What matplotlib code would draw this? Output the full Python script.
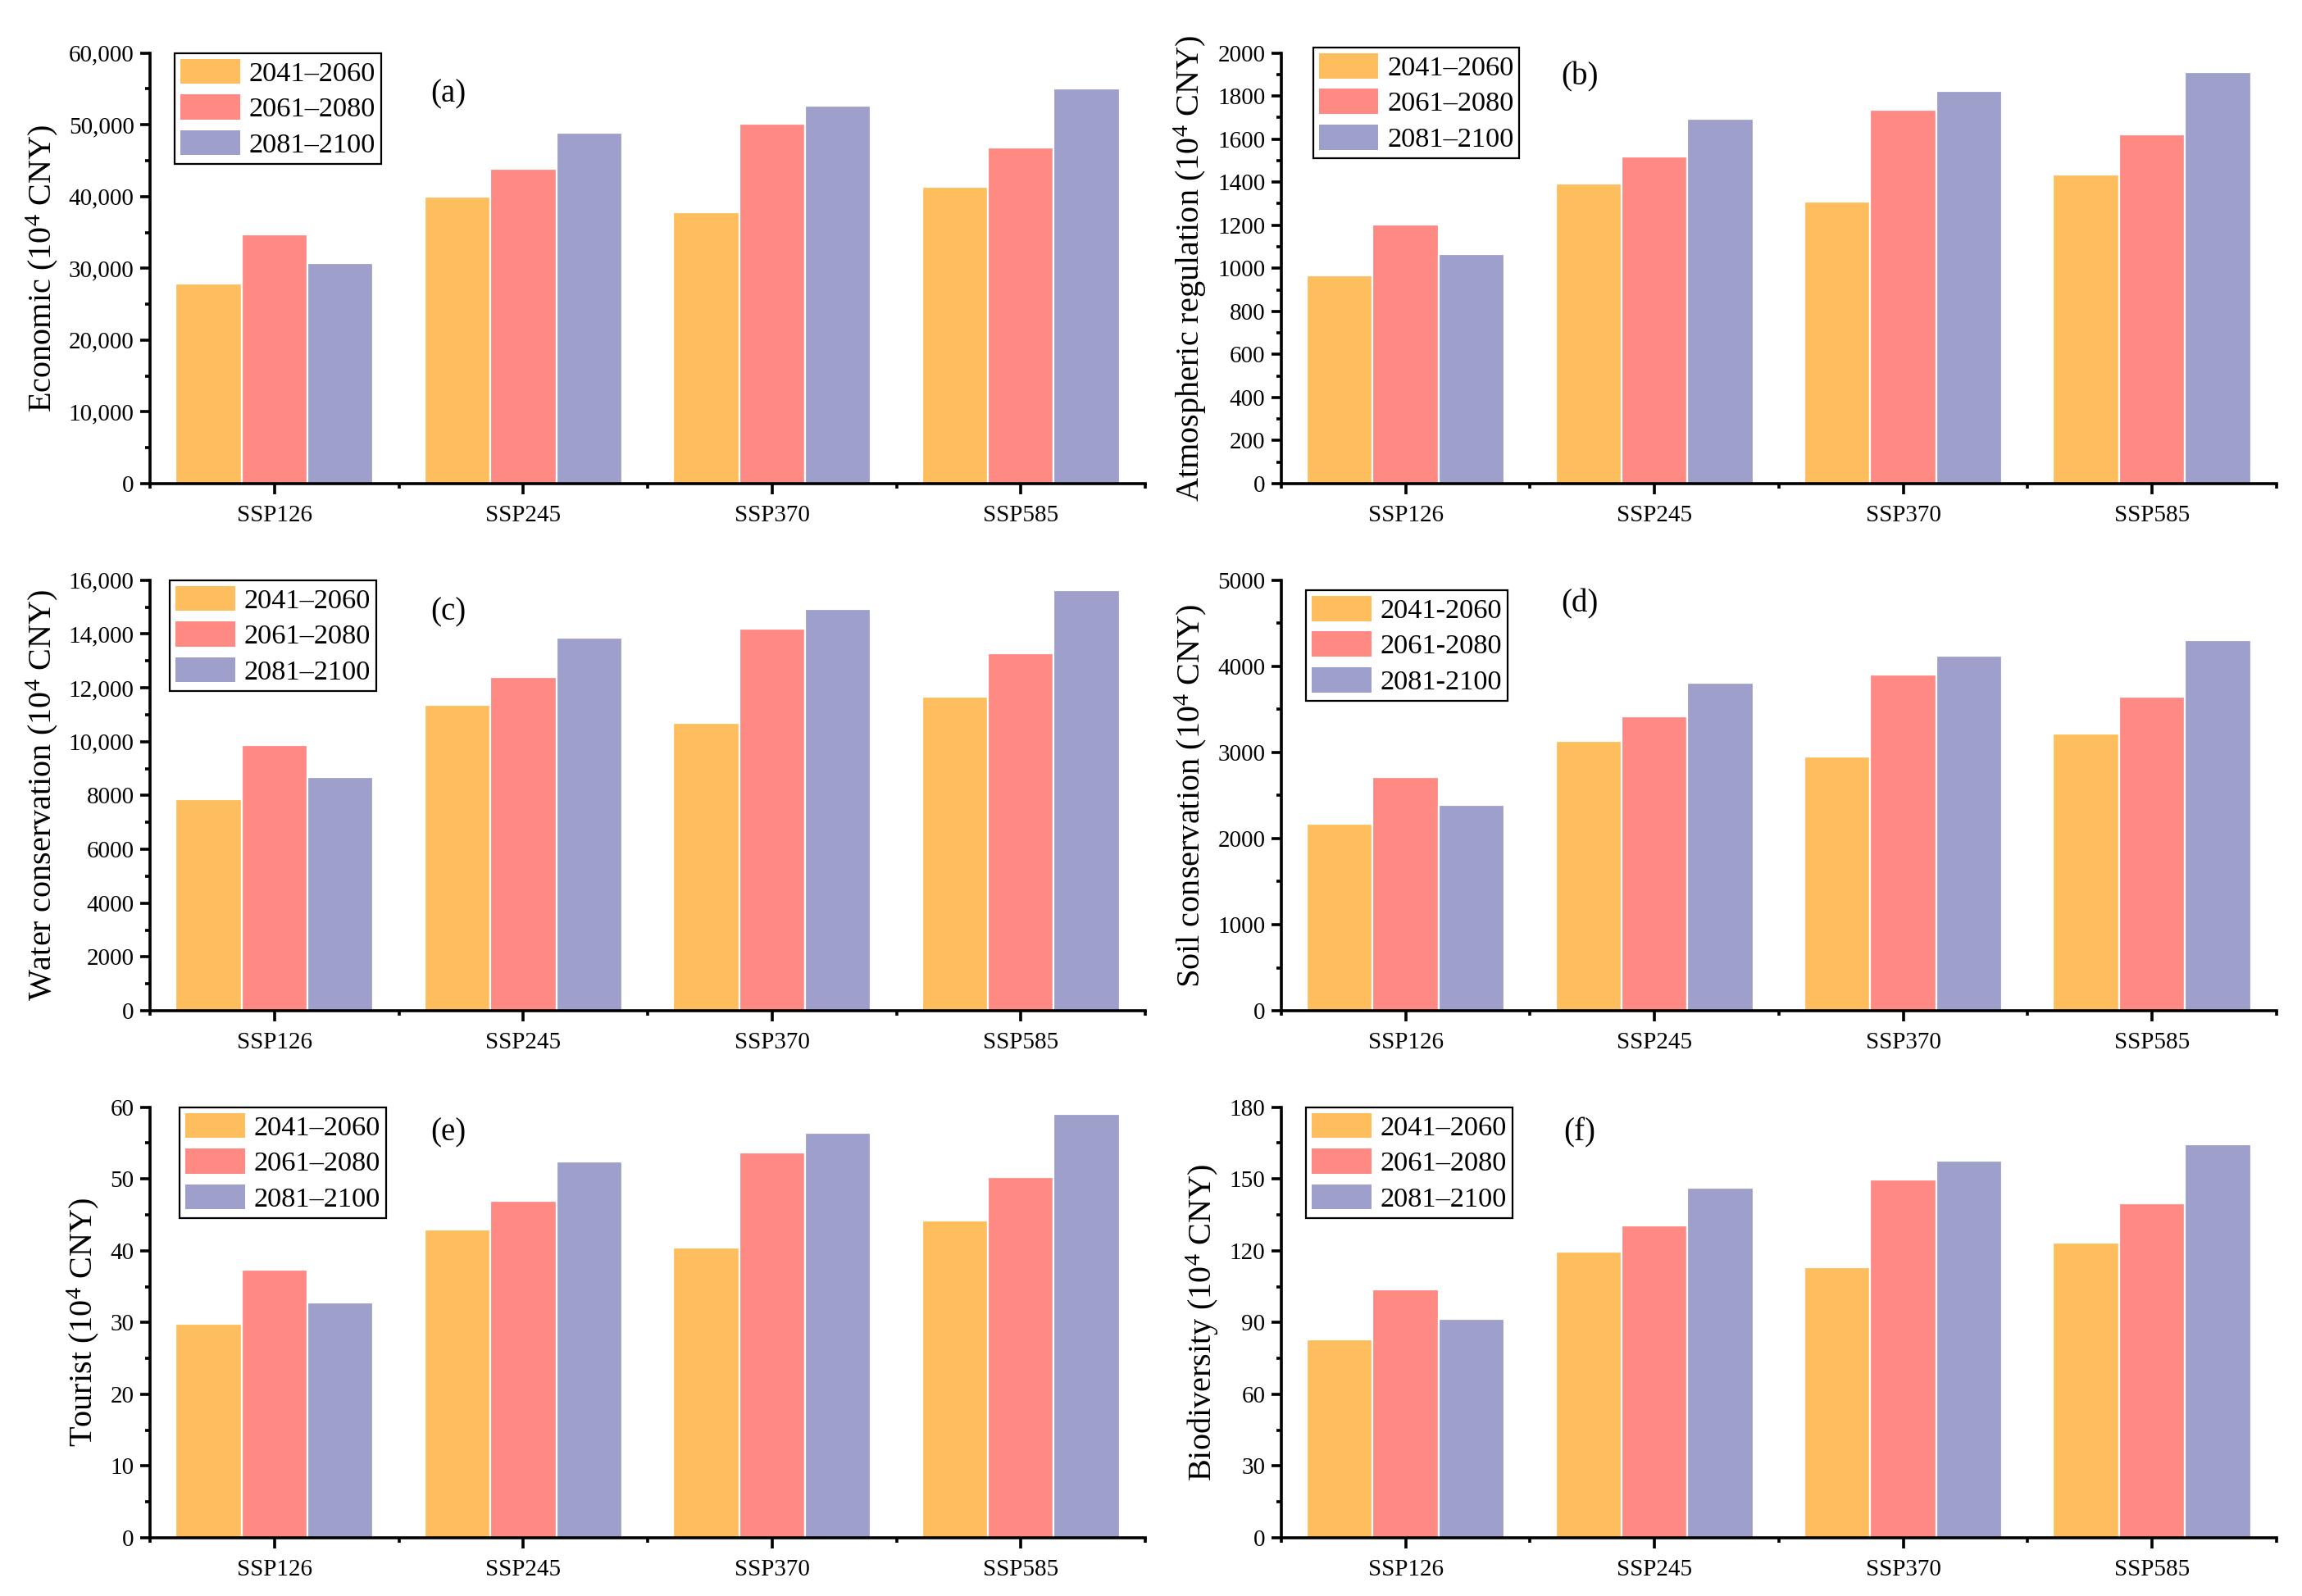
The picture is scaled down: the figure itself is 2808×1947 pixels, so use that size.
import matplotlib
matplotlib.use("Agg")
import matplotlib.pyplot as plt
import numpy as np
from matplotlib.ticker import FuncFormatter, MultipleLocator, FixedLocator

plt.rcParams['font.family'] = ['Liberation Serif', 'DejaVu Serif']
plt.rcParams['mathtext.fontset'] = 'custom'
plt.rcParams['mathtext.rm'] = 'Liberation Serif'
plt.rcParams['mathtext.it'] = 'Liberation Serif:italic'
plt.rcParams['mathtext.bf'] = 'Liberation Serif:bold'

scenarios = ["SSP126", "SSP245", "SSP370", "SSP585"]
periods_dash = ["2041\u20132060", "2061\u20132080", "2081\u20132100"]
periods_hyphen = ["2041-2060", "2061-2080", "2081-2100"]
colors = ["#FEBE5E", "#FF8983", "#9E9FCB"]

# values per panel: rows = periods (2041-2060, 2061-2080, 2081-2100), cols = scenarios
economic = [[27900, 40000, 37800, 41300],
            [34700, 43900, 50100, 46800],
            [30700, 48900, 52600, 55000]]
atmospheric = [[967, 1392, 1308, 1435],
               [1201, 1519, 1737, 1622],
               [1064, 1695, 1825, 1910]]
water = [[7870, 11350, 10700, 11680],
         [9860, 12410, 14190, 13280],
         [8690, 13860, 14920, 15630]]
soil = [[2170, 3128, 2953, 3222],
        [2716, 3420, 3907, 3650],
        [2391, 3812, 4121, 4299]]
tourist = [[29.8, 42.9, 40.4, 44.2],
           [37.3, 46.9, 53.7, 50.2],
           [32.8, 52.4, 56.4, 59.0]]
biodiversity = [[83.0, 119.6, 113.1, 123.5],
                [103.8, 130.7, 149.7, 139.7],
                [91.4, 146.3, 157.6, 164.5]]

panels = [
    dict(data=economic, ylabel="Economic (10$^{4}$ CNY)", tag="(a)", ymax=60000, major=10000, minor=5000,
         labels=periods_dash, leg=(0.025, 1.0), tagpos=(0.30, 0.905)),
    dict(data=atmospheric, ylabel="Atmospheric regulation (10$^{4}$ CNY)", tag="(b)", ymax=2000, major=200, minor=100,
         labels=periods_dash, leg=(0.032, 1.013), tagpos=(0.30, 0.945)),
    dict(data=water, ylabel="Water conservation (10$^{4}$ CNY)", tag="(c)", ymax=16000, major=2000, minor=1000,
         labels=periods_dash, leg=(0.02, 1.0), tagpos=(0.30, 0.925)),
    dict(data=soil, ylabel="Soil conservation (10$^{4}$ CNY)", tag="(d)", ymax=5000, major=1000, minor=500,
         labels=periods_hyphen, leg=(0.025, 0.977), tagpos=(0.30, 0.945)),
    dict(data=tourist, ylabel="Tourist (10$^{4}$ CNY)", tag="(e)", ymax=60, major=10, minor=5,
         labels=periods_dash, leg=(0.03, 1.0), tagpos=(0.30, 0.94)),
    dict(data=biodiversity, ylabel="Biodiversity (10$^{4}$ CNY)", tag="(f)", ymax=180, major=30, minor=15,
         labels=periods_dash, leg=(0.025, 1.0), tagpos=(0.30, 0.94)),
]

fig = plt.figure(figsize=(14.04, 9.735), dpi=200)
lefts = [0.0652, 0.5566]
bottoms = [0.697, 0.3667, 0.0365]
w, h = 0.4323, 0.2698

def fmt(v, pos):
    if v >= 10000:
        return f"{v:,.0f}"
    return f"{v:.0f}"

x = np.arange(len(scenarios))
bw = 0.265
for i, p in enumerate(panels):
    r, c = divmod(i, 2)
    ax = fig.add_axes([lefts[c], bottoms[r], w, h])
    handles = []
    for k in range(3):
        bars = ax.bar(x + (k - 1) * bw, p["data"][k], width=bw, color=colors[k],
                      edgecolor="white", linewidth=0.8, label=p["labels"][k])
        handles.append(bars)
    ax.set_xlim(-0.5, 3.5)
    ax.set_ylim(0, p["ymax"])
    ax.spines["top"].set_visible(False)
    ax.spines["right"].set_visible(False)
    ax.spines["left"].set_linewidth(1.3)
    ax.spines["bottom"].set_linewidth(1.3)
    ax.set_xticks(x)
    ax.set_xticklabels(scenarios, fontsize=10.5)
    ax.xaxis.set_minor_locator(FixedLocator(np.arange(-0.5, 3.6, 1.0)))
    ax.yaxis.set_major_locator(MultipleLocator(p["major"]))
    ax.yaxis.set_minor_locator(MultipleLocator(p["minor"]))
    ax.yaxis.set_major_formatter(FuncFormatter(fmt))
    ax.tick_params(axis="x", which="major", direction="out", length=4.5, width=1.3, pad=5)
    ax.tick_params(axis="x", which="minor", direction="out", length=2.3, width=1.3)
    ax.tick_params(axis="y", which="major", direction="out", length=4.5, width=1.3, pad=2.5, labelsize=10.5)
    ax.tick_params(axis="y", which="minor", direction="out", length=2.2, width=1.3)
    ax.set_ylabel(p["ylabel"], fontsize=14.5, labelpad=4)
    ax.text(p["tagpos"][0], p["tagpos"][1], p["tag"], transform=ax.transAxes,
            fontsize=14, ha="center", va="center")
    leg = ax.legend(loc="upper left", bbox_to_anchor=p["leg"], borderaxespad=0,
                    fontsize=12.4, handlelength=2.1, handleheight=1.0, labelspacing=0.27,
                    handletextpad=0.32, borderpad=0.2, fancybox=False, framealpha=1,
                    edgecolor="black")
    leg.get_frame().set_linewidth(0.8)
    for hp in leg.get_patches():
        hp.set_edgecolor("none")

fig.savefig("out.png", dpi=200)
